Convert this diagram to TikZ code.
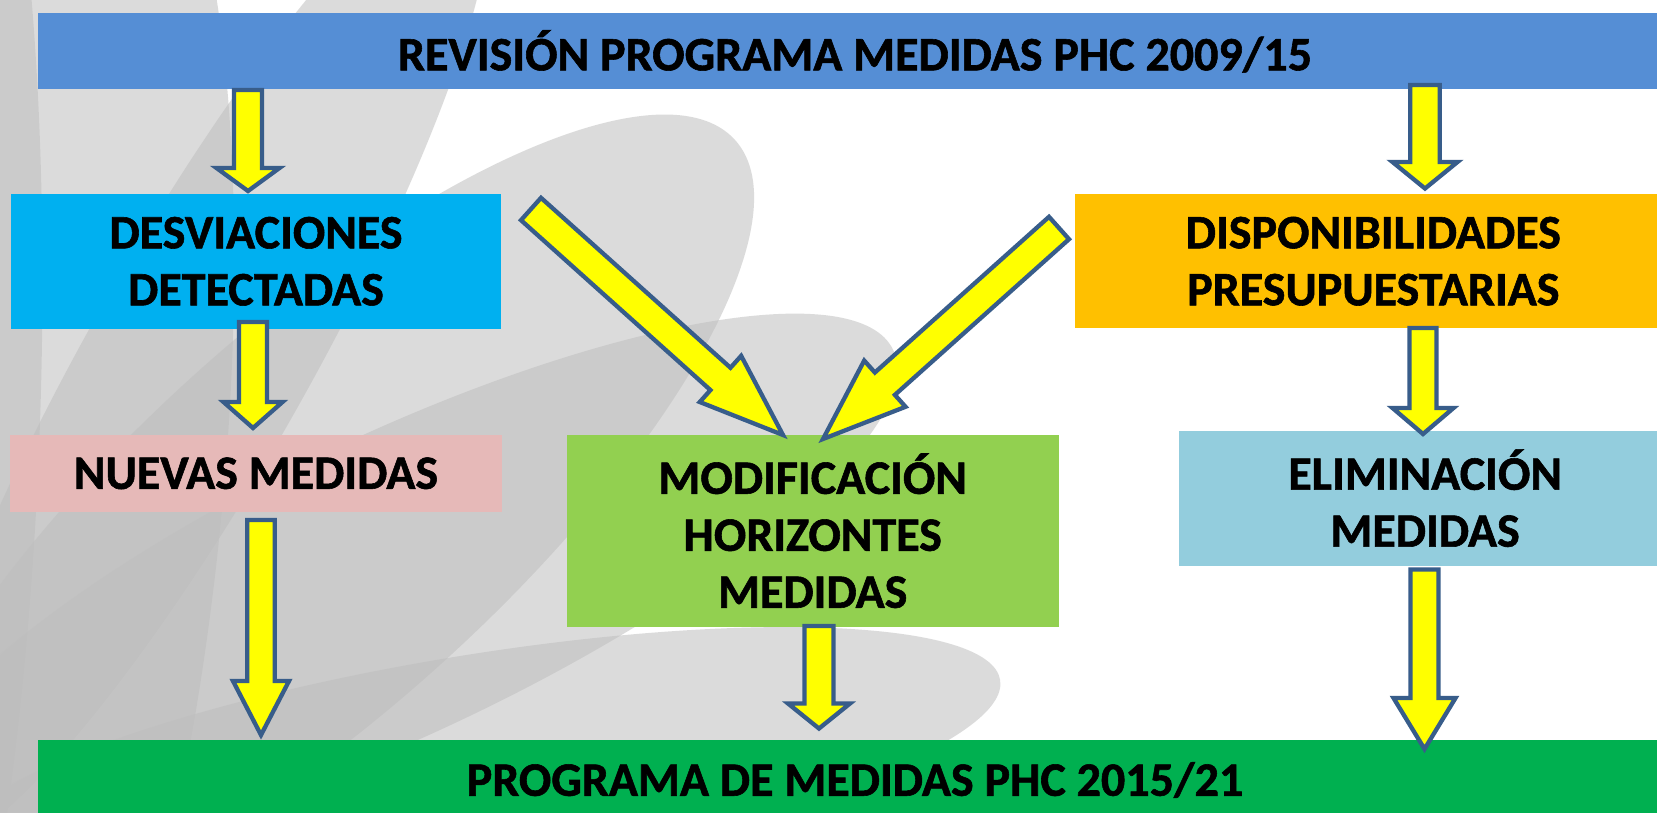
\documentclass[tikz,border=0pt]{standalone}
\usepackage{fontspec}
\setmainfont{Carlito}[BoldFeatures={FakeBold=1.2}]
\usetikzlibrary{calc}
\definecolor{topblue}{HTML}{558ED5}
\definecolor{desvcol}{HTML}{00B0F0}
\definecolor{nuevcol}{HTML}{E6B9B8}
\definecolor{modcol}{HTML}{92D050}
\definecolor{dispcol}{HTML}{FFC000}
\definecolor{elimcol}{HTML}{93CDDD}
\definecolor{botgreen}{HTML}{00B050}
\definecolor{arrfill}{HTML}{FFFF00}
\definecolor{arredge}{HTML}{385D8A}
\definecolor{petalgray}{gray}{0.746}
\tikzset{
  box/.style={draw=none, inner sep=0pt, align=center, text=black,
    font=\fontsize{48}{57}\selectfont\bfseries},
  barrow/.style={fill=arrfill, draw=arredge, line width=4.3pt, line join=miter, miter limit=20},
  petalshape/.style={fill=petalgray, fill opacity=0.54, draw=none}
}
% #1 prefix, #2 start, #3 tip, #4 shaft half width, #5 head half width, #6 head length
\newcommand\blockarrow[6]{%
  \coordinate (#1h) at ($(#3)!#6pt!(#2)$);
  \draw[barrow] ($(#2)!#4pt!90:(#3)$) -- ($(#1h)!#4pt!-90:(#2)$) -- ($(#1h)!#5pt!-90:(#2)$)
    -- (#3) -- ($(#1h)!#5pt!90:(#2)$) -- ($(#1h)!#4pt!90:(#2)$) -- ($(#2)!#4pt!-90:(#3)$) -- cycle;
}
\begin{document}
\begin{tikzpicture}[x=1pt,y=-1pt]
\useasboundingbox (0,0) rectangle (1657,812);
\fill[white] (0,0) rectangle (1657,812);
% background petals
\begin{scope}
\clip (0,0) rectangle (1657,812);
\fill[petalshape, shift={(-120,420)}, rotate=88] (0,0) ellipse [x radius=820pt, y radius=160pt];
\fill[petalshape, shift={(20,520)}, rotate=84] (0,0) ellipse [x radius=760pt, y radius=200pt];
\fill[petalshape, shift={(198,360)}, rotate=60.5] (0,0) ellipse [x radius=560pt, y radius=110pt];
\fill[petalshape, shift={(317,520)}, rotate=42.3] (0,0) ellipse [x radius=565pt, y radius=190pt];
\fill[petalshape, shift={(396,585)}, rotate=25.3] (0,0) ellipse [x radius=550pt, y radius=150pt];
\fill[petalshape, shift={(475,765)}, rotate=9.2] (0,0) ellipse [x radius=532pt, y radius=110pt];
\end{scope}
% boxes
\node[box, fill=topblue, minimum width=1634pt, minimum height=76pt] (top) at (855,51.3)
  {REVISIÓN PROGRAMA MEDIDAS PHC 2009/15};
\node[box, fill=desvcol, minimum width=490.7pt, minimum height=134.7pt] (desv) at (256,261.3)
  {DESVIACIONES\\DETECTADAS};
\node[box, fill=nuevcol, minimum width=492.5pt, minimum height=76.7pt] (nuev) at (256,473.3)
  {NUEVAS MEDIDAS};
\node[box, fill=modcol, minimum width=491.8pt, minimum height=191.7pt] (modif) at (812.7,530.8)
  {MODIFICACIÓN\\HORIZONTES\\MEDIDAS};
\node[box, fill=dispcol, minimum width=597.5pt, minimum height=134.3pt] (disp) at (1373.3,261.2)
  {DISPONIBILIDADES\\PRESUPUESTARIAS};
\node[box, fill=elimcol, minimum width=491.8pt, minimum height=135pt] (elim) at (1425.1,498.2)
  {ELIMINACIÓN\\MEDIDAS};
\node[box, fill=botgreen, minimum width=1634pt, minimum height=80pt] (bot) at (855,780)
  {PROGRAMA DE MEDIDAS PHC 2015/21};
% arrow end points
\coordinate (a1s) at (248,90);     \coordinate (a1e) at (248,191);
\coordinate (a2s) at (253,322);    \coordinate (a2e) at (253,428);
\coordinate (a3s) at (261,520);    \coordinate (a3e) at (261,735);
\coordinate (a4s) at (819,626);    \coordinate (a4e) at (819,728.5);
\coordinate (a5s) at (1425,85);    \coordinate (a5e) at (1425,188.5);
\coordinate (a6s) at (1423,328);   \coordinate (a6e) at (1423,434);
\coordinate (a7s) at (1424.5,569.5); \coordinate (a7e) at (1424.5,749);
\coordinate (aAs) at (531,209);    \coordinate (aAe) at (783,435);
\coordinate (aBs) at (1059,228);   \coordinate (aBe) at (823,439);
% arrows
\blockarrow{a1}{a1s}{a1e}{14}{31.5}{23}
\blockarrow{a2}{a2s}{a2e}{14}{29.5}{26}
\blockarrow{a3}{a3s}{a3e}{13.7}{28}{54}
\blockarrow{a4}{a4s}{a4e}{14.5}{31}{25}
\blockarrow{a5}{a5s}{a5e}{14.7}{32.5}{26.5}
\blockarrow{a6}{a6s}{a6e}{13.5}{30.5}{26}
\blockarrow{a7}{a7s}{a7e}{14}{31}{51}
\blockarrow{aA}{aAs}{aAe}{15}{31}{84}
\blockarrow{aB}{aBs}{aBe}{15}{31}{83}
\end{tikzpicture}
\end{document}
